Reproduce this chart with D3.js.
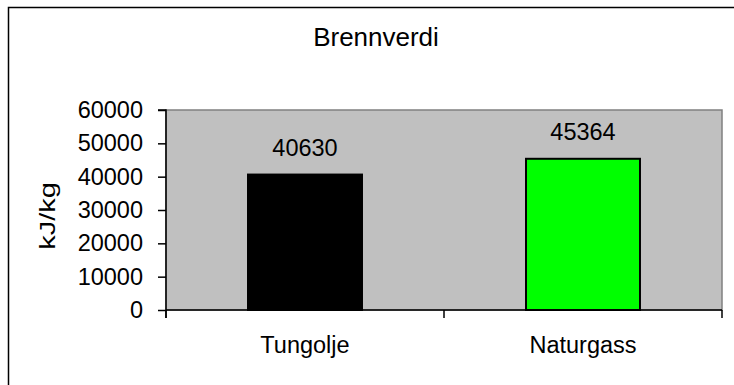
<!DOCTYPE html>
<html>
<head>
<meta charset="utf-8">
<script src="https://cdn.jsdelivr.net/npm/d3@7"></script>
<style>
  html, body { margin: 0; padding: 0; background: #fff; }
  svg { display: block; }
  text { font-family: "Liberation Sans", Arial, sans-serif; fill: #000; }
</style>
</head>
<body>
<svg id="chart" width="734" height="385"></svg>
<script>
// Heating values per fuel
const categories = ["Tungolje", "Naturgass"];
const values = [40630, 45364];
const barColors = ["#000000", "#00FF00"];
const yTicks = [0, 10000, 20000, 30000, 40000, 50000, 60000];
const title = "Brennverdi";
const yLabel = "kJ/kg";

const W = 734, H = 385;
const plot = { left: 166, right: 722, top: 110, bottom: 310 };
const fontSize = 23.5;

const svg = d3.select("#chart");

// Chart frame (runs off the right and bottom edges)
svg.append("rect")
  .attr("x", 8.5).attr("y", 7.5)
  .attr("width", W + 20).attr("height", H + 20)
  .attr("fill", "#fff").attr("stroke", "#000").attr("stroke-width", 1.5);

const x = d3.scaleBand().domain(categories).range([plot.left, plot.right]).padding(0);
const y = d3.scaleLinear().domain([0, 60000]).range([plot.bottom, plot.top]);

// Plot area background
svg.append("rect")
  .attr("x", plot.left).attr("y", plot.top)
  .attr("width", plot.right - plot.left).attr("height", plot.bottom - plot.top)
  .attr("fill", "#C0C0C0").attr("stroke", "#808080").attr("stroke-width", 1.5);

// Bars
const barW = x.bandwidth() * 0.41;
svg.selectAll("rect.bar").data(categories).join("rect")
  .attr("class", "bar")
  .attr("x", d => x(d) + (x.bandwidth() - barW) / 2)
  .attr("y", (d, i) => y(values[i]))
  .attr("width", barW)
  .attr("height", (d, i) => y(0) - y(values[i]))
  .attr("fill", (d, i) => barColors[i])
  .attr("stroke", "#000").attr("stroke-width", 2);

// Value labels
svg.selectAll("text.val").data(categories).join("text")
  .attr("class", "val")
  .attr("x", d => x(d) + x.bandwidth() / 2)
  .attr("y", (d, i) => y(values[i]) - 19)
  .attr("text-anchor", "middle")
  .attr("font-size", fontSize)
  .text((d, i) => values[i]);

// Y axis
const yAxis = d3.axisLeft(y).tickValues(yTicks).tickSize(8).tickPadding(15).tickFormat(d3.format("d"));
const gy = svg.append("g").attr("transform", `translate(${plot.left},0)`).call(yAxis);
gy.select(".domain").attr("stroke", "#000").attr("stroke-width", 1.5)
  .attr("d", `M-8,${plot.top}H0V${plot.bottom + 8}`);
gy.selectAll(".tick line").attr("stroke", "#000").attr("stroke-width", 1.5);
gy.selectAll(".tick text").attr("font-size", fontSize)
  .attr("font-family", "Liberation Sans, Arial, sans-serif").attr("fill", "#000");

// X axis with ticks at category boundaries
const gx = svg.append("g").attr("transform", `translate(0,${plot.bottom})`);
gx.append("line").attr("x1", plot.left).attr("x2", plot.right)
  .attr("stroke", "#000").attr("stroke-width", 1.5);
const bounds = categories.map(c => x(c)).concat([x(categories[categories.length - 1]) + x.bandwidth()]);
gx.selectAll("line.tk").data(bounds).join("line")
  .attr("class", "tk")
  .attr("x1", d => d).attr("x2", d => d)
  .attr("y1", 0).attr("y2", 8)
  .attr("stroke", "#000").attr("stroke-width", 1.5);
gx.selectAll("text").data(categories).join("text")
  .attr("x", d => x(d) + x.bandwidth() / 2)
  .attr("y", 43)
  .attr("text-anchor", "middle")
  .attr("font-size", fontSize)
  .text(d => d);

// Title
svg.append("text")
  .attr("x", (plot.left + plot.right) / 2 - 68)
  .attr("y", 46)
  .attr("text-anchor", "middle")
  .attr("font-size", 26)
  .text(title);

// Y axis title (stretched along its length)
svg.append("text")
  .attr("transform", `translate(55,216) rotate(-90) scale(1.35,1)`)
  .attr("text-anchor", "middle")
  .attr("font-size", 21.5)
  .text(yLabel);
</script>
</body>
</html>
